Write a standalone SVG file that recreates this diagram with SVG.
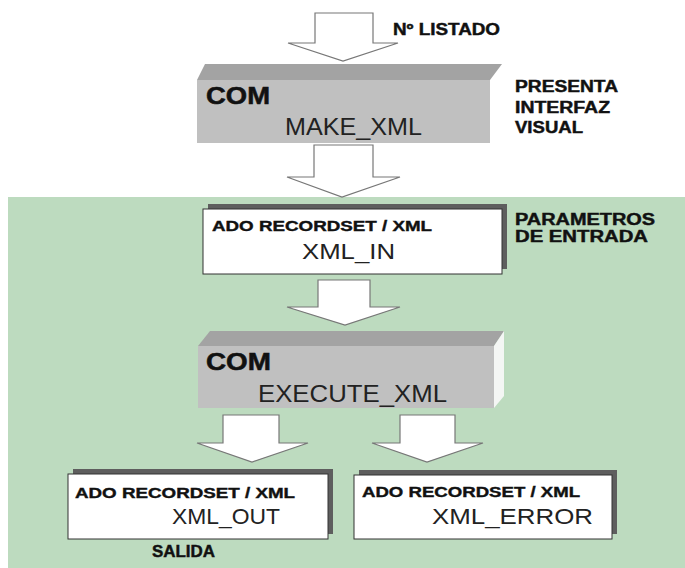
<svg xmlns="http://www.w3.org/2000/svg" width="685" height="568" viewBox="0 0 685 568">
<style>
.lbl{font-family:"Liberation Sans",Arial,sans-serif;font-weight:bold;font-size:16px;fill:#111;stroke:#111;stroke-width:0.45}
.ado{font-family:"Liberation Sans",Arial,sans-serif;font-weight:bold;font-size:15px;fill:#111;stroke:#111;stroke-width:0.4}
.com{font-family:"Liberation Sans",Arial,sans-serif;font-weight:bold;font-size:23px;fill:#111;stroke:#111;stroke-width:0.5}
.nm{font-family:"Liberation Sans",Arial,sans-serif;font-size:23px;fill:#222}
.nm2{font-family:"Liberation Sans",Arial,sans-serif;font-size:22px;fill:#222}
.arrow{fill:#fff;stroke:#777;stroke-width:1.2;stroke-linejoin:miter}
.front{fill:#c0c0c0}
.top{fill:#a3a3a3}
.card{fill:#fff;stroke:#333;stroke-width:1}
.shadow{fill:#5e5e5e}
</style>
<rect x="0" y="0" width="685" height="568" fill="#fff"/>
<g id="background">
<rect x="8" y="197" width="677" height="371" fill="#bddbbf"/>
</g>
<g id="connectors">
<path class="arrow" d="M315,13 H373 V43 H398 L343,61 L288,43 H315 Z"/>
<path class="arrow" d="M314,145 H373 V177 H400 L342,197 L287,177 H314 Z"/>
<path class="arrow" d="M318,280 H370 V307 H400 L345,325 L287,307 H318 Z"/>
<path class="arrow" d="M223,415 H279 V443 H308 L252,462 L197,443 H223 Z"/>
<path class="arrow" d="M400,415 H455 V443 H483 L427,462 L372,443 H400 Z"/>
</g>
<g id="make_xml">
<polygon class="top" points="205,64 502,64 490,80 197,80"/>
<rect class="front" x="197" y="80" width="293" height="63"/>
<text class="com" x="206" y="104" textLength="64" lengthAdjust="spacingAndGlyphs">COM</text>
<text class="nm" x="285" y="135" textLength="137" lengthAdjust="spacingAndGlyphs">MAKE_XML</text>
</g>
<g id="xml_in">
<rect class="shadow" x="208" y="204" width="299" height="65"/>
<rect class="card" x="203" y="209" width="299" height="65"/>
<text class="ado" x="212" y="231" textLength="220" lengthAdjust="spacingAndGlyphs">ADO RECORDSET / XML</text>
<text class="nm2" x="302" y="259" textLength="93" lengthAdjust="spacingAndGlyphs">XML_IN</text>
</g>
<g id="execute_xml">
<polygon class="top" points="210,331 504,331 494,346 198,346"/>
<rect class="front" x="198" y="346" width="296" height="62"/>
<polygon fill="#f4f6f4" points="494,346 504,331 504,396 494,408"/>
<text class="com" x="206" y="370" textLength="65" lengthAdjust="spacingAndGlyphs">COM</text>
<text class="nm" x="258" y="402" textLength="189" lengthAdjust="spacingAndGlyphs">EXECUTE_XML</text>
</g>
<g id="xml_out">
<rect class="shadow" x="73" y="469" width="260" height="65"/>
<rect class="card" x="68" y="474" width="260" height="65"/>
<text class="ado" x="75" y="498" textLength="220" lengthAdjust="spacingAndGlyphs">ADO RECORDSET / XML</text>
<text class="nm2" x="172" y="524" textLength="108" lengthAdjust="spacingAndGlyphs">XML_OUT</text>
</g>
<g id="xml_error">
<rect class="shadow" x="359" y="470" width="258" height="64"/>
<rect class="card" x="354" y="475" width="258" height="64"/>
<text class="ado" x="362" y="497" textLength="218" lengthAdjust="spacingAndGlyphs">ADO RECORDSET / XML</text>
<text class="nm2" x="432" y="524" textLength="161" lengthAdjust="spacingAndGlyphs">XML_ERROR</text>
</g>
<g id="labels">
<text class="lbl" x="393" y="35" textLength="107" lengthAdjust="spacingAndGlyphs">Nº LISTADO</text>
<text class="lbl" x="515" y="92" textLength="103" lengthAdjust="spacingAndGlyphs">PRESENTA</text>
<text class="lbl" x="515" y="113" textLength="95" lengthAdjust="spacingAndGlyphs">INTERFAZ</text>
<text class="lbl" x="515" y="133" textLength="68" lengthAdjust="spacingAndGlyphs">VISUAL</text>
<text class="lbl" x="515" y="225" textLength="140" lengthAdjust="spacingAndGlyphs">PARAMETROS</text>
<text class="lbl" x="515" y="242" textLength="133" lengthAdjust="spacingAndGlyphs">DE ENTRADA</text>
<text class="lbl" x="152" y="557" textLength="63" lengthAdjust="spacingAndGlyphs">SALIDA</text>
</g>
</svg>
